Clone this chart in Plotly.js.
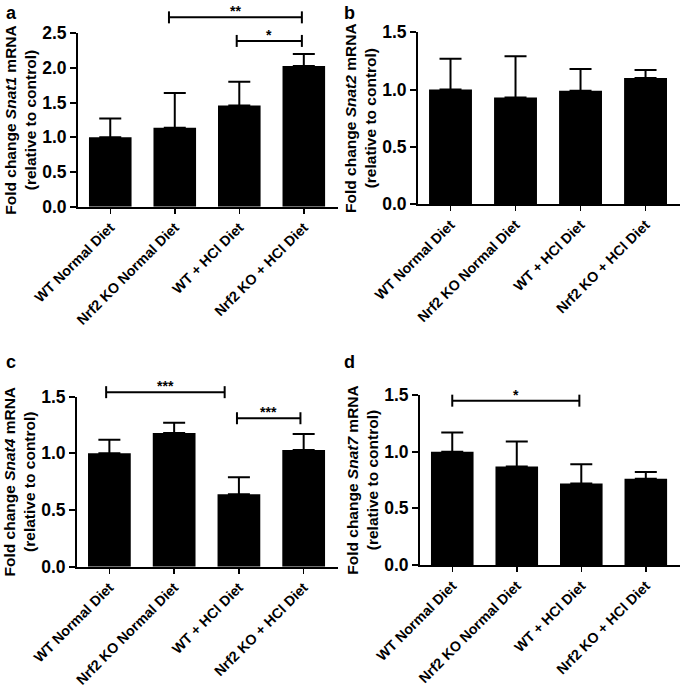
<!DOCTYPE html>
<html>
<head>
<meta charset="utf-8">
<script src="https://cdn.plot.ly/plotly-3.0.1.min.js"></script>
<style>html,body{margin:0;padding:0;background:#fff;}#chart{width:685px;height:689px;}</style>
</head>
<body>
<div id="chart"></div>
<script>
const categories = ["WT Normal Diet", "Nrf2 KO Normal Diet", "WT + HCl Diet", "Nrf2 KO + HCl Diet"];

const snat1Mean = [1.00, 1.14, 1.46, 2.03];
const snat1Err  = [0.27, 0.50, 0.34, 0.17];
const snat2Mean = [1.00, 0.93, 0.99, 1.10];
const snat2Err  = [0.27, 0.36, 0.19, 0.07];
const snat4Mean = [1.00, 1.18, 0.64, 1.03];
const snat4Err  = [0.12, 0.09, 0.15, 0.14];
const snat7Mean = [1.00, 0.87, 0.72, 0.76];
const snat7Err  = [0.17, 0.22, 0.17, 0.06];

const genes = ["Snat1", "Snat2", "Snat4", "Snat7"];
const panelLetters = ["a", "b", "c", "d"];
const yMax = [2.5, 1.5, 1.5, 1.5];

// significance brackets: [panelIndex, fromGroup, toGroup, height, label]
const brackets = [
  [0, 0.91, 2.97, 2.73, "**"],
  [0, 1.96, 2.97, 2.39, "*"],
  [2, -0.05, 1.78, 1.54, "***"],
  [2, 1.97, 2.95, 1.31, "***"],
  [3, 0.00, 1.97, 1.45, "*"]
];

const means = [snat1Mean, snat2Mean, snat4Mean, snat7Mean];
const errs = [snat1Err, snat2Err, snat4Err, snat7Err];

const FONT = "Arial, 'Liberation Sans', Helvetica, sans-serif";
const H = 689, W = 685;
const xRange = [-0.5, 3.53];

// domains in pixels -> paper
const xDomPx = [[78, 338], [418, 680], [77, 338], [420, 680]];
const yDomPx = [[33.3, 206.7], [32.3, 204], [396.7, 566.7], [395, 565]];

const traces = [];
const layout = {
  width: W, height: H,
  margin: {l: 0, r: 0, t: 0, b: 0},
  paper_bgcolor: "#fff", plot_bgcolor: "#fff",
  showlegend: false,
  font: {family: FONT, color: "#000", weight: "bold"},
  shapes: [], annotations: []
};

for (let i = 0; i < 4; i++) {
  const n = i === 0 ? "" : String(i + 1);
  traces.push({
    type: "bar",
    x: [0, 1, 2, 3],
    y: means[i],
    xaxis: "x" + n, yaxis: "y" + n,
    width: 0.66,
    marker: {color: "#000", line: {width: 0}},
    error_y: {type: "data", array: errs[i], arrayminus: errs[i].map(() => 0), symmetric: false,
              color: "#000", thickness: 2, width: 11},
    hoverinfo: "skip"
  });
  const xd = xDomPx[i].map(v => v / W);
  const yd = [1 - yDomPx[i][1] / H, 1 - yDomPx[i][0] / H];
  layout["xaxis" + n] = {
    domain: xd, range: xRange, anchor: "y" + n,
    tickmode: "array", tickvals: [0, 1, 2, 3], ticktext: categories,
    tickangle: -45, ticks: "outside", ticklen: 5, tickwidth: 1.5, tickcolor: "#000",
    showline: true, linecolor: "#000", linewidth: 2, showgrid: false, zeroline: false,
    tickfont: {family: FONT, size: 14.2, color: "#000", weight: "bold"}, fixedrange: true
  };
  layout["yaxis" + n] = {
    domain: yd, range: [0, yMax[i]], anchor: "x" + n,
    tickmode: "linear", tick0: 0, dtick: 0.5, tickformat: ".1f",
    ticks: "outside", ticklen: 6, tickwidth: 2, tickcolor: "#000",
    showline: true, linecolor: "#000", linewidth: 2, showgrid: false, zeroline: false,
    tickfont: {family: FONT, size: 17.5, color: "#000", weight: "bold"},
    title: {text: "Fold change <i>" + genes[i] + "</i> mRNA<br>(relative to control)",
            font: {family: FONT, size: 15.5, color: "#000", weight: "bold"}, standoff: 2},
    fixedrange: true
  };
  layout.annotations.push({
    xref: "paper", yref: "paper", x: (i % 2 === 0 ? 4 : 342) / W, y: 1 - (i < 2 ? 1 : 350) / H,
    xanchor: "left", yanchor: "top", showarrow: false, text: panelLetters[i],
    font: {family: FONT, size: 18, color: "#000", weight: "bold"}
  });
}

const toDomX = v => (v - xRange[0]) / (xRange[1] - xRange[0]);
brackets.forEach(b => {
  const [p, g0, g1, h, lab] = b;
  const n = p === 0 ? "" : String(p + 1);
  const xr = "x" + n + " domain", yr = "y" + n + " domain";
  const yv = h / yMax[p];
  const line = {color: "#000", width: 2};
  layout.shapes.push({type: "line", xref: xr, yref: yr, x0: toDomX(g0), x1: toDomX(g1), y0: yv, y1: yv, line});
  [g0, g1].forEach(g => layout.shapes.push({type: "line", xref: xr, yref: yr, x0: toDomX(g), x1: toDomX(g),
    ysizemode: "pixel", yanchor: yv, y0: -6, y1: 6, line}));
  layout.annotations.push({xref: xr, yref: yr, x: toDomX((g0 + g1) / 2), y: yv, yshift: 6,
    xanchor: "center", yanchor: "middle", showarrow: false, text: lab,
    font: {family: FONT, size: 14, color: "#000", weight: "bold"}});
});

Plotly.newPlot("chart", traces, layout, {displayModeBar: false, staticPlot: true});
</script>
</body>
</html>
